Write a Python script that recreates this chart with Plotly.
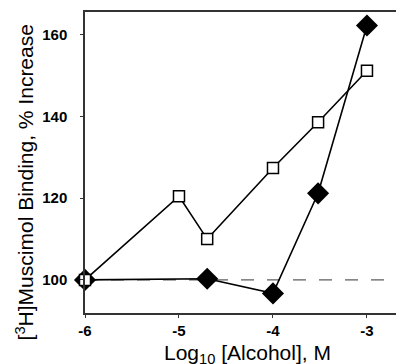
import plotly.graph_objects as go

x_open = [-6, -5, -4.7, -4, -3.52, -3]
y_open = [100, 120.5, 110, 127.4, 138.6, 151.2]
x_filled = [-6, -4.7, -4, -3.52, -3]
y_filled = [100, 100.3, 96.7, 121.2, 162.3]
x_ticks = [-6, -5, -4, -3]
y_ticks = [100, 120, 140, 160]
baseline = 100

fig = go.Figure()
fig.add_trace(go.Scatter(x=[-6, -2.6], y=[baseline, baseline], mode="lines",
                         line=dict(color="#333", width=1, dash="13px,13px"), showlegend=False))
fig.add_trace(go.Scatter(x=x_filled, y=y_filled, mode="lines+markers", cliponaxis=False,
                         line=dict(color="black", width=1.6),
                         marker=dict(symbol="diamond", size=17, color="black"),
                         showlegend=False))
fig.add_trace(go.Scatter(x=x_open, y=y_open, mode="lines+markers", cliponaxis=False,
                         line=dict(color="black", width=1.6),
                         marker=dict(symbol="square", size=11, color="white",
                                     line=dict(color="black", width=1.5)),
                         showlegend=False))

fig.update_layout(
    width=396, height=356,
    margin=dict(l=77, r=0, t=4, b=51),
    plot_bgcolor="white", paper_bgcolor="white",
    font=dict(family="Liberation Sans, Arial", color="black"),
    xaxis=dict(range=[-6, -2.606], tickvals=x_ticks, ticktext=["<b>%d</b>" % v for v in x_ticks],
               showgrid=False, zeroline=False, showline=True, linecolor="#333", linewidth=1.5,
               mirror=True, ticks="outside", ticklen=3, tickcolor="#333",
               tickfont=dict(size=15)),
    yaxis=dict(range=[91.9, 165.6], tickvals=y_ticks, ticktext=["<b>%d</b>" % v for v in y_ticks],
               showgrid=False, zeroline=False, showline=True, linecolor="#333", linewidth=1.5,
               ticks="outside", ticklen=3, tickcolor="#333", ticklabelstandoff=10,
               tickfont=dict(size=15)),
)
fig.add_annotation(text="[<sup>3</sup>H]Muscimol Binding, % Increase", textangle=-90,
                   xref="paper", yref="paper", x=-0.188, y=0.434, showarrow=False,
                   font=dict(size=21), xanchor="center", yanchor="middle")
fig.add_annotation(text="Log<sub>10</sub> [Alcohol], M",
                   xref="paper", yref="paper", x=0.508, y=-0.137, showarrow=False,
                   font=dict(size=21), xanchor="center", yanchor="middle")
fig.write_html("out.html")
